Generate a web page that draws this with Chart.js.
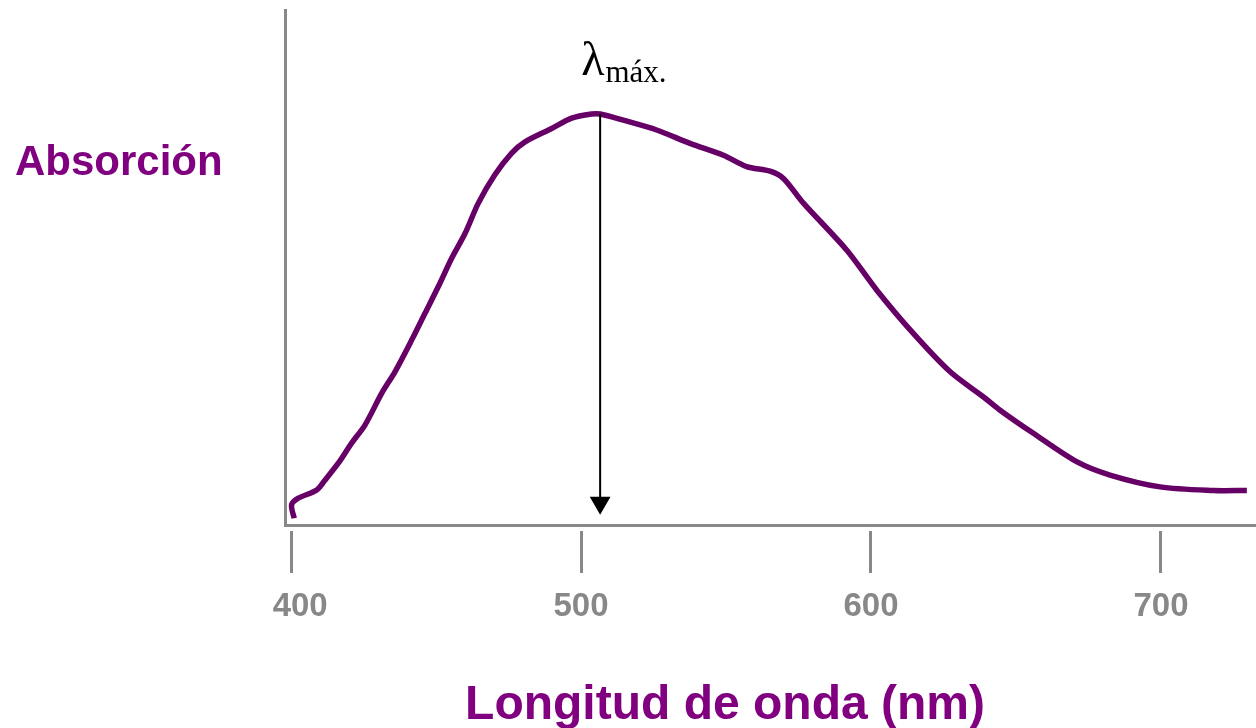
<!DOCTYPE html>
<html>
<head>
<meta charset="utf-8">
<script src="https://cdn.jsdelivr.net/npm/chart.js@4/dist/chart.umd.min.js"></script>
<style>
  html, body { margin: 0; padding: 0; background: #ffffff; }
  #wrap { width: 1256px; height: 728px; position: relative; }
</style>
</head>
<body>
<div id="wrap"><canvas id="c" width="1256" height="728"></canvas></div>
<script>
// Wavelength (nm) and absorbance
const wavelengths = [401.1, 400.2, 402.5, 408.9, 411.7, 416.3, 420.9, 425.5, 431.3, 435.9,
  441.6, 446.2, 450.8, 455.4, 460.0, 464.6, 470.3, 476.1, 480.7, 489.9,
  496.8, 503.7, 506.6, 514.6, 526.1, 537.6, 549.1, 557.1, 565.2, 569.8,
  576.7, 591.6, 602.0, 614.6, 627.2, 638.7, 644.5, 656.0, 670.9, 682.4,
  699.7, 718.0, 729.6];
const absorbance = [0.013, 0.039, 0.052, 0.068, 0.087, 0.120, 0.159, 0.194, 0.256, 0.298,
  0.359, 0.411, 0.463, 0.518, 0.566, 0.625, 0.680, 0.722, 0.744, 0.770,
  0.790, 0.798, 0.798, 0.786, 0.767, 0.741, 0.718, 0.696, 0.687, 0.673,
  0.625, 0.534, 0.456, 0.372, 0.298, 0.249, 0.223, 0.178, 0.123, 0.097,
  0.074, 0.067, 0.067];
// λmax marker: arrow from the peak down to the axis
const lambdaMax = 506.6;
const arrowY = [0.798, 0.043];
const xTickValues = [400, 500, 600, 700];
const xTickLabels = ['  400', '500', '600', '700'];
const xLabel = 'Longitud de onda (nm)';
const yLabel = 'Absorción';

const curvePoints = wavelengths.map((w, i) => ({ x: w, y: absorbance[i] }));
const arrowPoints = arrowY.map(v => ({ x: lambdaMax, y: v }));

const GRAY = '#888888';
const PURPLE = '#800080';

const labelsPlugin = {
  id: 'labels',
  afterDraw(chart) {
    const ctx = chart.ctx;
    const xs = chart.scales.x;
    ctx.save();
    ctx.fillStyle = PURPLE;
    ctx.textBaseline = 'alphabetic';
    ctx.font = 'bold 42px "Liberation Sans", Arial, sans-serif';
    ctx.textAlign = 'left';
    ctx.fillText(yLabel, 15, 175);
    ctx.font = 'bold 48px "Liberation Sans", Arial, sans-serif';
    ctx.textAlign = 'center';
    ctx.fillText(xLabel, 725, 719);
    // lambda max label
    const ax = xs.getPixelForValue(lambdaMax);
    ctx.fillStyle = '#000000';
    ctx.textAlign = 'left';
    ctx.font = '48px "Liberation Serif", "Times New Roman", serif';
    const lx = ax - 19;
    ctx.fillText('λ', lx, 75);
    const lw = ctx.measureText('λ').width;
    ctx.font = '31px "Liberation Serif", "Times New Roman", serif';
    ctx.fillText('máx.', lx + lw + 1, 82);
    ctx.restore();
  }
};

new Chart(document.getElementById('c'), {
  type: 'line',
  data: {
    datasets: [
      {
        data: arrowPoints,
        borderColor: '#000000',
        backgroundColor: '#000000',
        borderWidth: 2,
        pointRadius: [0, 12],
        pointHoverRadius: 0,
        pointStyle: 'triangle',
        rotation: 180,
        pointBorderWidth: 0,
        tension: 0,
        order: 0
      },
      {
        data: curvePoints,
        borderColor: '#660066',
        borderWidth: 5.5,
        pointRadius: 0,
        tension: 0.3,
        fill: false,
        order: 1,
        borderCapStyle: 'butt',
        borderJoinStyle: 'round'
      }
    ]
  },
  options: {
    responsive: false,
    animation: false,
    layout: { autoPadding: false, padding: { top: 10, left: 0, right: 0, bottom: 0 } },
    plugins: { legend: { display: false }, tooltip: { enabled: false }, title: { display: false } },
    scales: {
      x: {
        type: 'linear',
        min: 397.93,
        max: 732.76,
        afterBuildTicks: (scale) => { scale.ticks = xTickValues.map(v => ({ value: v })); },
        afterFit: (scale) => { scale.height = 203; scale.paddingLeft = 0; scale.paddingRight = 0; },
        border: { display: true, color: GRAY, width: 3 },
        grid: {
          drawOnChartArea: false,
          drawTicks: true,
          tickLength: 48,
          tickWidth: 3,
          tickColor: GRAY,
          tickBorderDash: [0, 4, 60, 100]
        },
        ticks: {
          color: GRAY,
          padding: 14,
          maxRotation: 0,
          autoSkip: false,
          font: { family: '"Liberation Sans", Arial, sans-serif', size: 33, weight: 'bold' },
          callback: (v) => {
            const i = xTickValues.indexOf(v);
            return i >= 0 ? xTickLabels[i] : '';
          }
        }
      },
      y: {
        type: 'linear',
        min: 0,
        max: 1,
        afterFit: (scale) => { scale.width = 285; scale.paddingTop = 0; scale.paddingBottom = 0; },
        border: { display: true, color: GRAY, width: 3 },
        grid: { display: false },
        ticks: { display: false }
      }
    }
  },
  plugins: [labelsPlugin]
});
</script>
</body>
</html>
